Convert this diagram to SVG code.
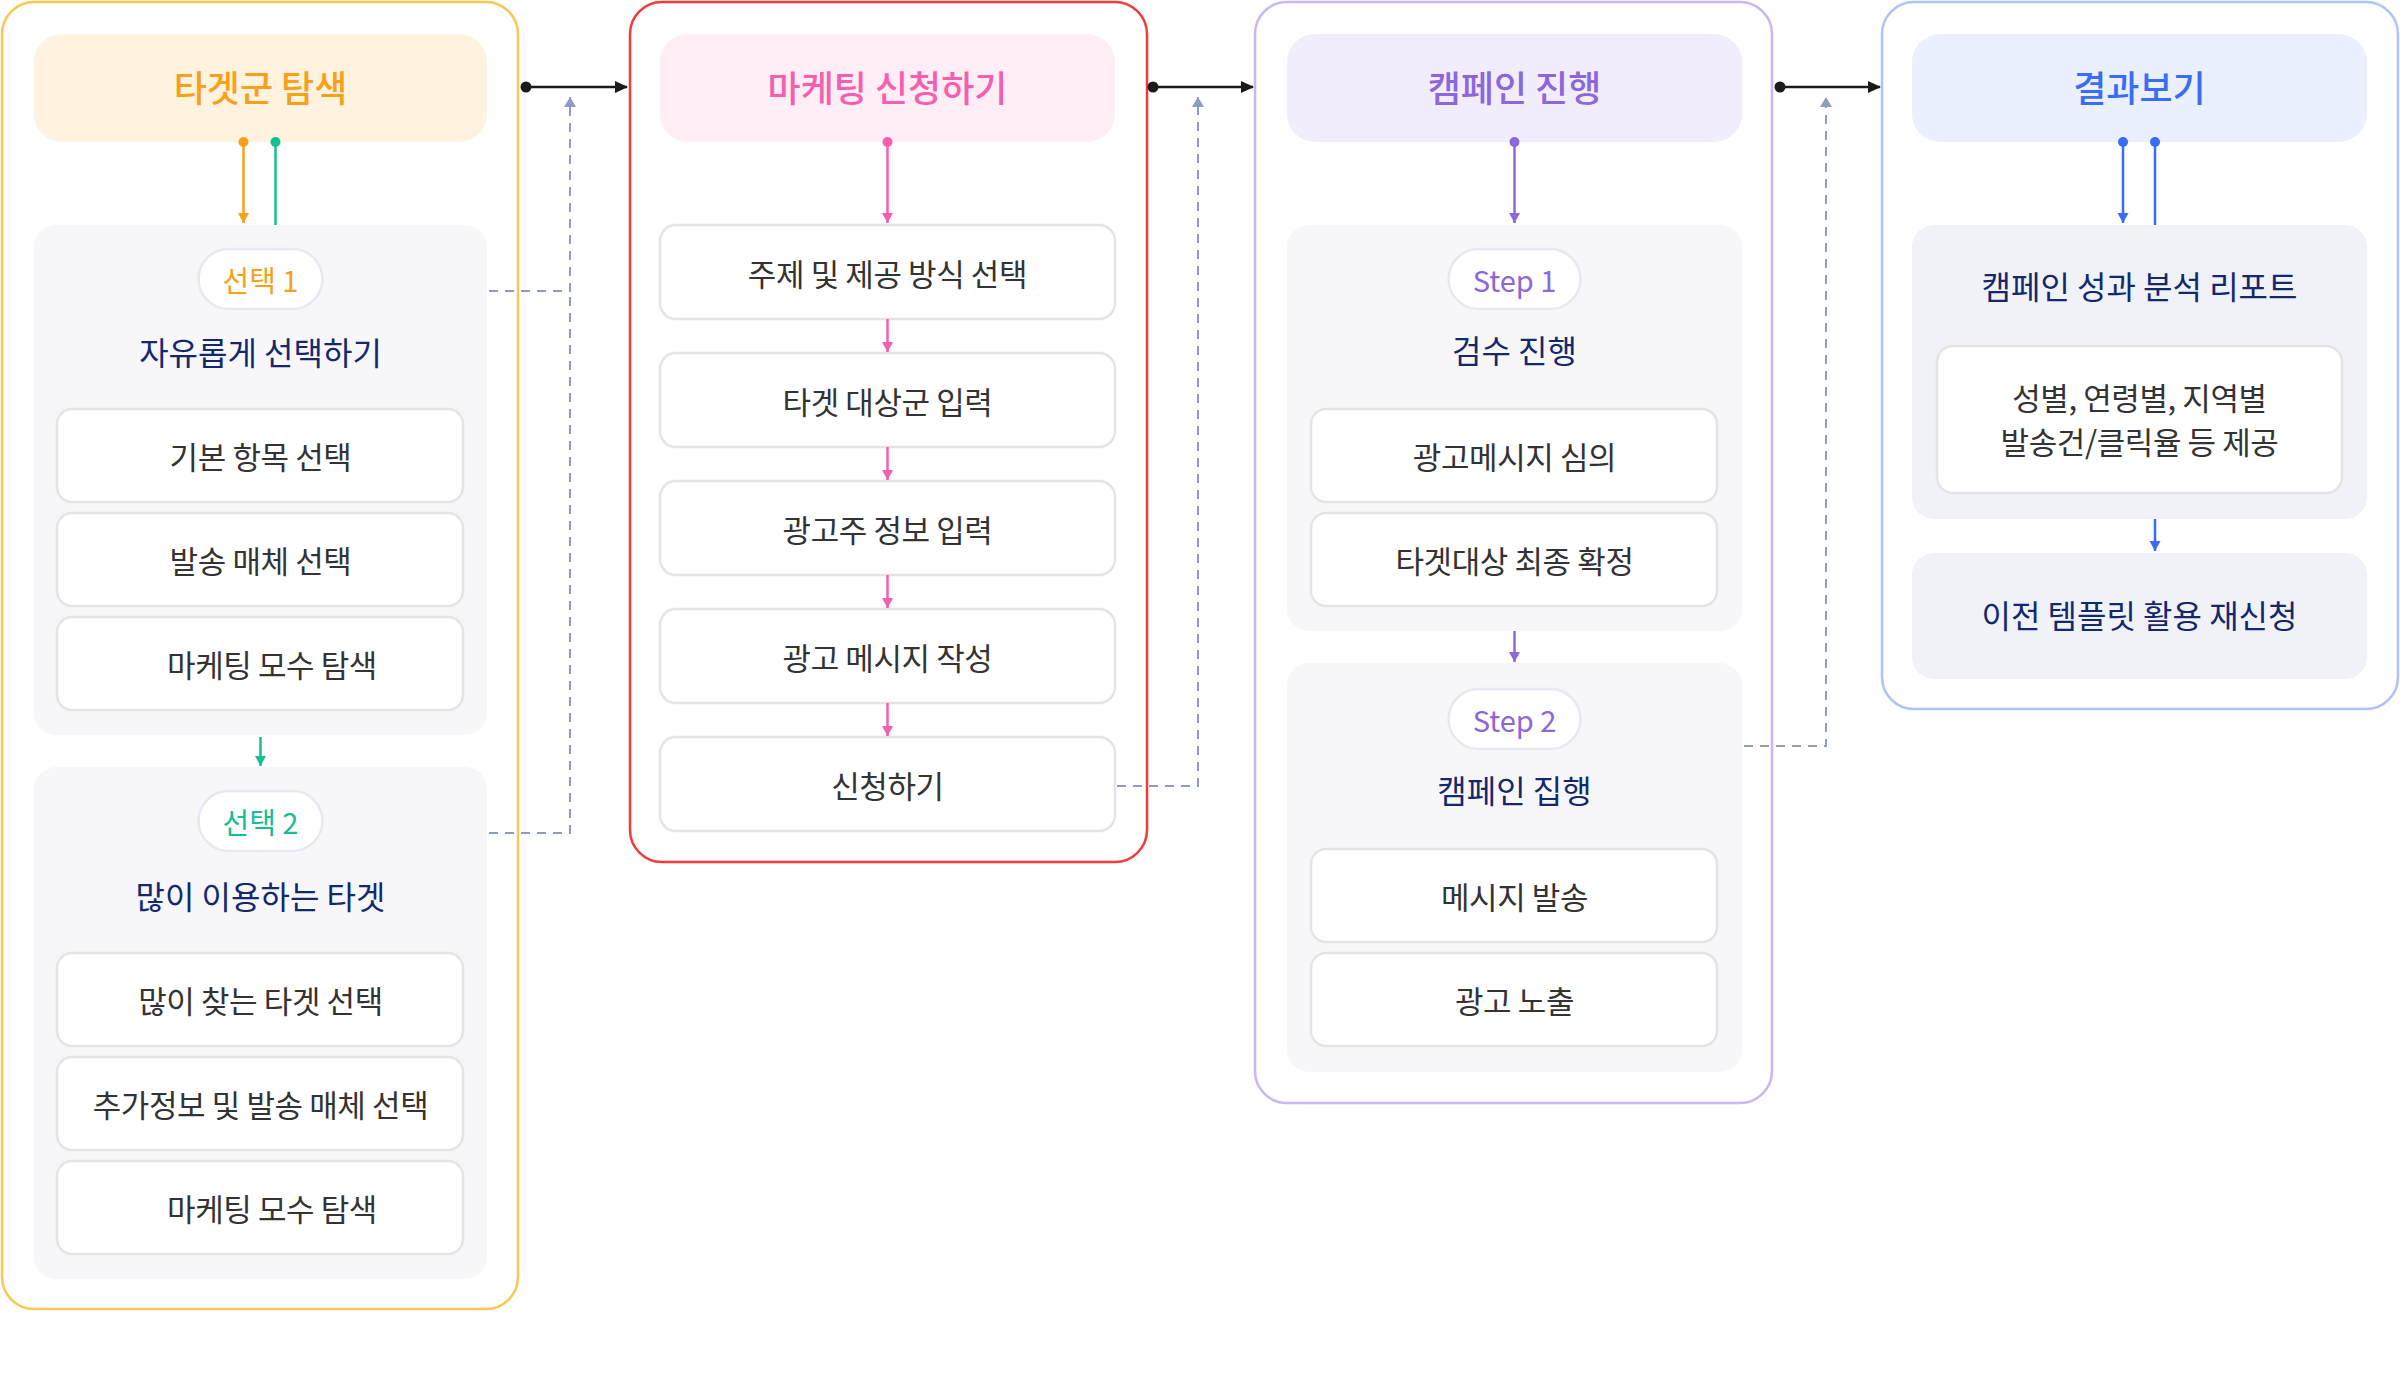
<svg xmlns="http://www.w3.org/2000/svg" width="2402" height="1400" viewBox="0 0 2402 1400">
<style>
text{font-family:"Noto Sans CJK KR","Noto Sans KR",sans-serif;text-anchor:middle;dominant-baseline:central}
.hdr{font-size:36px;font-weight:500}
.ttl{font-size:32px;font-weight:400;fill:#14286E}
.box{fill:#fff;stroke:#E4E4E6;stroke-width:2.5}
.bt{font-size:31px;fill:#333;letter-spacing:-0.4px}
.pill{fill:#fff;stroke:#E6E8F2;stroke-width:2.5}
.pt{font-size:29px}
.pan{fill:#F7F7FA}
.dash{fill:none;stroke:#8F9BBF;stroke-width:2;stroke-dasharray:9 7}
.blk{stroke:#1a1a1a;stroke-width:2.5;fill:none}
</style>
<defs>
<marker id="aBlk" markerUnits="userSpaceOnUse" markerWidth="14" markerHeight="14" refX="12" refY="7" orient="auto"><path d="M0,1 L13,7 L0,13 Z" fill="#1a1a1a"/></marker>
<marker id="aDash" markerUnits="userSpaceOnUse" markerWidth="14" markerHeight="14" refX="10" refY="6" orient="auto"><path d="M0,0 L10,6 L0,12 Z" fill="#8F9BBF"/></marker>
<marker id="aOr" markerUnits="userSpaceOnUse" markerWidth="12" markerHeight="12" refX="10" refY="6" orient="auto"><path d="M0,0.5 L10,6 L0,11.5 Z" fill="#F7A11A"/></marker>
<marker id="aGr" markerUnits="userSpaceOnUse" markerWidth="12" markerHeight="12" refX="10" refY="6" orient="auto"><path d="M0,0.5 L10,6 L0,11.5 Z" fill="#16BE93"/></marker>
<marker id="aPk" markerUnits="userSpaceOnUse" markerWidth="12" markerHeight="12" refX="10" refY="6" orient="auto"><path d="M0,0.5 L10,6 L0,11.5 Z" fill="#F75FAE"/></marker>
<marker id="aPu" markerUnits="userSpaceOnUse" markerWidth="12" markerHeight="12" refX="10" refY="6" orient="auto"><path d="M0,0.5 L10,6 L0,11.5 Z" fill="#8C67DA"/></marker>
<marker id="aBl" markerUnits="userSpaceOnUse" markerWidth="12" markerHeight="12" refX="10" refY="6" orient="auto"><path d="M0,0.5 L10,6 L0,11.5 Z" fill="#3B6CF6"/></marker>
</defs>
<rect width="2402" height="1400" fill="#fff"/>

<!-- Column 1 -->
<g id="col1">
<rect x="2" y="2" width="516" height="1307" rx="32" fill="#fff" stroke="#FBC753" stroke-width="2.5"/>
<g id="col1-header"><rect x="34" y="34" width="453" height="108" rx="28" fill="#FFF3E0"/><text class="hdr" x="260.5" y="86" fill="#F7A11A">타겟군 탐색</text></g>
<g id="choice1">
<rect class="pan" x="34" y="225" width="453" height="510" rx="22"/>
<rect class="pill" x="198.5" y="249" width="124" height="60" rx="30"/><text class="pt" x="260.5" y="279" fill="#F7A11A">선택 1</text>
<text class="ttl" x="260.5" y="351">자유롭게 선택하기</text>
</g>
<g id="c1b1"><rect class="box" x="57" y="409" width="406" height="93" rx="15"/><text class="bt" x="260.5" y="455.5">기본 항목 선택</text></g>
<g id="c1b2"><rect class="box" x="57" y="513" width="406" height="93" rx="15"/><text class="bt" x="260.5" y="559.5">발송 매체 선택</text></g>
<g id="c1b3"><rect class="box" x="57" y="617" width="406" height="93" rx="15"/><text class="bt" x="272" y="663.5">마케팅 모수 탐색</text></g>
<g id="choice2">
<rect class="pan" x="34" y="767" width="453" height="512" rx="22"/>
<rect class="pill" x="198.5" y="791" width="124" height="60" rx="30"/><text class="pt" x="260.5" y="821" fill="#16BE93">선택 2</text>
<text class="ttl" x="260.5" y="895">많이 이용하는 타겟</text>
</g>
<g id="c1b4"><rect class="box" x="57" y="953" width="406" height="93" rx="15"/><text class="bt" x="260.5" y="999.5">많이 찾는 타겟 선택</text></g>
<g id="c1b5"><rect class="box" x="57" y="1057" width="406" height="93" rx="15"/><text class="bt" x="260.5" y="1103.5">추가정보 및 발송 매체 선택</text></g>
<g id="c1b6"><rect class="box" x="57" y="1161" width="406" height="93" rx="15"/><text class="bt" x="272" y="1207.5">마케팅 모수 탐색</text></g>
</g>

<!-- Column 2 -->
<g id="col2">
<rect x="630" y="2" width="517" height="860" rx="32" fill="#fff" stroke="#F33B3B" stroke-width="2.5"/>
<g id="col2-header"><rect x="660" y="34" width="455" height="108" rx="28" fill="#FFEEF6"/><text class="hdr" x="887.5" y="86" fill="#F65FAD">마케팅 신청하기</text></g>
<g id="c2b1"><rect class="box" x="660" y="225" width="455" height="94" rx="16"/><text class="bt" x="887.5" y="272">주제 및 제공 방식 선택</text></g>
<g id="c2b2"><rect class="box" x="660" y="353" width="455" height="94" rx="16"/><text class="bt" x="887.5" y="400">타겟 대상군 입력</text></g>
<g id="c2b3"><rect class="box" x="660" y="481" width="455" height="94" rx="16"/><text class="bt" x="887.5" y="528">광고주 정보 입력</text></g>
<g id="c2b4"><rect class="box" x="660" y="609" width="455" height="94" rx="16"/><text class="bt" x="887.5" y="656">광고 메시지 작성</text></g>
<g id="c2b5"><rect class="box" x="660" y="737" width="455" height="94" rx="16"/><text class="bt" x="887.5" y="784">신청하기</text></g>
</g>

<!-- Column 3 -->
<g id="col3">
<rect x="1255" y="2" width="517" height="1101" rx="32" fill="#fff" stroke="#C9B6F2" stroke-width="2.5"/>
<g id="col3-header"><rect x="1287" y="34" width="455" height="108" rx="28" fill="#F2EDFD"/><text class="hdr" x="1514.5" y="86" fill="#8C67DA">캠페인 진행</text></g>
<g id="step1">
<rect class="pan" x="1287" y="225" width="455" height="406" rx="22"/>
<rect class="pill" x="1448.5" y="249" width="132" height="60" rx="30"/><text class="pt" x="1514.5" y="279" fill="#8C67DA">Step 1</text>
<text class="ttl" x="1514.5" y="349">검수 진행</text>
</g>
<g id="c3b1"><rect class="box" x="1311" y="409" width="406" height="93" rx="15"/><text class="bt" x="1514.5" y="455.5">광고메시지 심의</text></g>
<g id="c3b2"><rect class="box" x="1311" y="513" width="406" height="93" rx="15"/><text class="bt" x="1514.5" y="559.5">타겟대상 최종 확정</text></g>
<g id="step2">
<rect class="pan" x="1287" y="663" width="455" height="409" rx="22"/>
<rect class="pill" x="1448.5" y="689" width="132" height="60" rx="30"/><text class="pt" x="1514.5" y="719" fill="#8C67DA">Step 2</text>
<text class="ttl" x="1514.5" y="789">캠페인 집행</text>
</g>
<g id="c3b3"><rect class="box" x="1311" y="849" width="406" height="93" rx="15"/><text class="bt" x="1514.5" y="895.5">메시지 발송</text></g>
<g id="c3b4"><rect class="box" x="1311" y="953" width="406" height="93" rx="15"/><text class="bt" x="1514.5" y="999.5">광고 노출</text></g>
</g>

<!-- Column 4 -->
<g id="col4">
<rect x="1882" y="2" width="516" height="707" rx="32" fill="#fff" stroke="#ADC4F8" stroke-width="2.5"/>
<g id="col4-header"><rect x="1912" y="34" width="455" height="108" rx="28" fill="#EAF0FE"/><text class="hdr" x="2139.5" y="86" fill="#3B6CF6">결과보기</text></g>
<g id="report">
<rect x="1912" y="225" width="455" height="294" rx="22" fill="#F0F2F7"/>
<text class="ttl" x="2139.5" y="285">캠페인 성과 분석 리포트</text>
<rect class="box" x="1937" y="346" width="405" height="147" rx="16"/>
<text class="bt" x="2139.5" y="396">성별, 연령별, 지역별</text>
<text class="bt" x="2139.5" y="440">발송건/클릭율 등 제공</text>
</g>
<g id="reapply"><rect x="1912" y="553" width="455" height="126" rx="22" fill="#F0F2F7"/><text class="ttl" x="2139.5" y="614">이전 템플릿 활용 재신청</text></g>
</g>

<!-- Connectors -->
<g id="connectors">
<path class="dash" d="M489,291 H570 V97" marker-end="url(#aDash)"/>
<path class="dash" d="M489,833 H570 V291"/>
<path class="dash" d="M1117,786 H1198 V97" marker-end="url(#aDash)"/>
<path class="dash" d="M1744,746 H1826 V97" marker-end="url(#aDash)"/>

<line class="blk" x1="526" y1="87" x2="627" y2="87" marker-end="url(#aBlk)"/><circle cx="526" cy="87" r="5.5" fill="#1a1a1a"/>
<line class="blk" x1="1153" y1="87" x2="1253" y2="87" marker-end="url(#aBlk)"/><circle cx="1153" cy="87" r="5.5" fill="#1a1a1a"/>
<line class="blk" x1="1780" y1="87" x2="1880" y2="87" marker-end="url(#aBlk)"/><circle cx="1780" cy="87" r="5.5" fill="#1a1a1a"/>

<line x1="243.5" y1="142" x2="243.5" y2="223" stroke="#F7A11A" stroke-width="2.5" marker-end="url(#aOr)"/><circle cx="243.5" cy="142" r="5" fill="#F7A11A"/>
<line x1="275.5" y1="142" x2="275.5" y2="225" stroke="#16BE93" stroke-width="2.5"/><circle cx="275.5" cy="142" r="5" fill="#16BE93"/>
<line x1="260.5" y1="737" x2="260.5" y2="766" stroke="#16BE93" stroke-width="2.5" marker-end="url(#aGr)"/>

<line x1="887.5" y1="142" x2="887.5" y2="223" stroke="#F75FAE" stroke-width="2.5" marker-end="url(#aPk)"/><circle cx="887.5" cy="142" r="5" fill="#F75FAE"/>
<line x1="887.5" y1="319" x2="887.5" y2="352" stroke="#F75FAE" stroke-width="2.5" marker-end="url(#aPk)"/>
<line x1="887.5" y1="447" x2="887.5" y2="480" stroke="#F75FAE" stroke-width="2.5" marker-end="url(#aPk)"/>
<line x1="887.5" y1="575" x2="887.5" y2="608" stroke="#F75FAE" stroke-width="2.5" marker-end="url(#aPk)"/>
<line x1="887.5" y1="703" x2="887.5" y2="736" stroke="#F75FAE" stroke-width="2.5" marker-end="url(#aPk)"/>

<line x1="1514.5" y1="142" x2="1514.5" y2="223" stroke="#8C67DA" stroke-width="2.5" marker-end="url(#aPu)"/><circle cx="1514.5" cy="142" r="5" fill="#8C67DA"/>
<line x1="1514.5" y1="631" x2="1514.5" y2="662" stroke="#8C67DA" stroke-width="2.5" marker-end="url(#aPu)"/>

<line x1="2123" y1="142" x2="2123" y2="223" stroke="#3B6CF6" stroke-width="2.5" marker-end="url(#aBl)"/><circle cx="2123" cy="142" r="5" fill="#3B6CF6"/>
<line x1="2155" y1="142" x2="2155" y2="225" stroke="#3B6CF6" stroke-width="2.5"/><circle cx="2155" cy="142" r="5" fill="#3B6CF6"/>
<line x1="2155" y1="519" x2="2155" y2="551" stroke="#3B6CF6" stroke-width="2.5" marker-end="url(#aBl)"/>
</g>
</svg>
